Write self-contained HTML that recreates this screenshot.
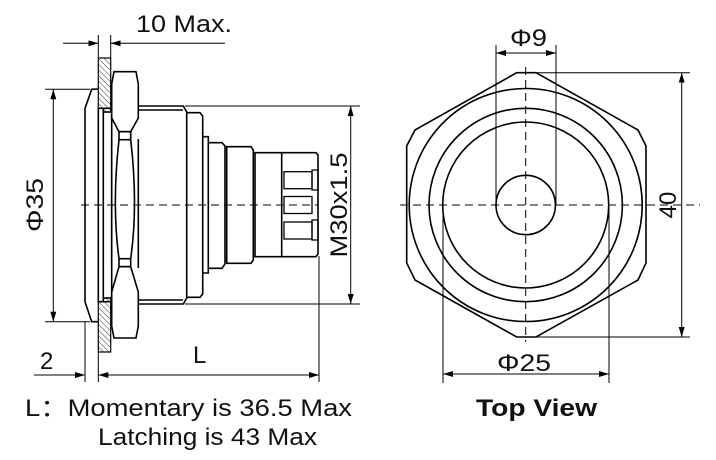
<!DOCTYPE html>
<html><head><meta charset="utf-8"><style>
html,body{margin:0;padding:0;background:#fff;width:716px;height:460px;overflow:hidden}
svg{display:block}
text{font-family:"Liberation Sans","Noto Sans CJK SC",sans-serif;fill:#111;font-size:24px}
</style></head><body>
<svg width="716" height="460" viewBox="0 0 716 460" xmlns="http://www.w3.org/2000/svg">
<defs>
<marker id="a" viewBox="0 0 10 6" refX="10" refY="3" markerWidth="10" markerHeight="6" orient="auto-start-reverse" markerUnits="userSpaceOnUse"><path d="M0,0 L10,3 L0,6 Z" fill="#000"/></marker>
<pattern id="h" width="4" height="4" patternUnits="userSpaceOnUse" patternTransform="rotate(-45)"><line x1="0" y1="0" x2="0" y2="4" stroke="#000" stroke-width="0.8"/></pattern>
</defs>
<g fill="none" stroke="#000" stroke-width="1.6">
<rect x="98.3" y="58" width="12.4" height="294" fill="url(#h)" stroke-width="1.2"/>
<path d="M98.3,89 L91.7,89.3 L85,108.3 L85,301.7 L91.7,321.7 L98.3,321.7"/>
<line x1="98.3" y1="108.3" x2="110.7" y2="108.3"/>
<line x1="98.3" y1="301.7" x2="110.7" y2="301.7"/>
<rect x="98.3" y="108.3" width="5" height="193.4" fill="#fff"/>
<rect x="103.3" y="112" width="8.4" height="186" fill="#fff"/>
<path d="M114,71.7 L136,71.7 L138.3,84 L138.3,118 L130.7,131.7 L119,131.7 L111.7,118 L111.7,84 Z" fill="#fff"/>
<path d="M114,338 L136,338 L138.3,326 L138.3,292 L130.7,266.7 L119,266.7 L111.7,292 L111.7,326 Z" fill="#fff"/>
<rect x="119" y="131.7" width="11.7" height="8"/>
<rect x="119" y="258.7" width="11.7" height="8"/>
<path d="M119,139.7 Q111.7,205 119,258.7 M130.7,139.7 Q138.3,205 130.7,258.7"/>
<line x1="111.7" y1="139" x2="111.7" y2="268"/>
<line x1="138.3" y1="139" x2="138.3" y2="268"/>
<path d="M138.3,106 L183.3,106 L186.7,112 L186.7,298 L183.3,304 L138.3,304"/>
<line x1="138.3" y1="110" x2="183" y2="110"/>
<line x1="138.3" y1="300" x2="183" y2="300"/>
<path d="M186.7,112.7 L200,112.7 L202.7,116 L202.7,294 L200,297.3 L186.7,297.3"/>
<path d="M202.7,136.7 L208.3,136.7 L208.3,273 L202.7,273"/>
<path d="M208.3,142.7 L222,142.7 L225,146 L225,264 L222,268.3 L208.3,268.3"/>
<path d="M226.7,146.7 L251,146.7 L253.3,150 L253.3,260 L251,263.3 L226.7,263.3 Z"/>
<path d="M255,152.7 L281.7,152.7 L281.7,256.7 L255,256.7 Z"/>
<path d="M281.7,152.7 L316,152.7 L318,155 L318,254 L316,256.7 L281.7,256.7"/>
<g stroke-width="1.3">
<rect x="284" y="171.7" width="28" height="17"/>
<rect x="284" y="196.5" width="28" height="17"/>
<rect x="284" y="222" width="28" height="17"/>
<rect x="312" y="170" width="6" height="20"/><rect x="312" y="220" width="6" height="20"/>
</g>
</g>
<g fill="none" stroke="#000" stroke-width="1">
<line x1="63" y1="43.3" x2="98.3" y2="43.3" marker-end="url(#a)"/>
<line x1="225" y1="43.3" x2="110.7" y2="43.3" marker-end="url(#a)"/>
<line x1="98.3" y1="35" x2="98.3" y2="58"/><line x1="110.7" y1="35" x2="110.7" y2="58"/>
<line x1="45" y1="89.3" x2="90" y2="89.3"/><line x1="45" y1="321.7" x2="90" y2="321.7"/>
<line x1="53.3" y1="89.3" x2="53.3" y2="321.7" marker-start="url(#a)" marker-end="url(#a)"/>
<line x1="185" y1="106" x2="360" y2="106"/><line x1="185" y1="304" x2="360" y2="304"/>
<line x1="350.7" y1="106" x2="350.7" y2="304" marker-start="url(#a)" marker-end="url(#a)"/>
<line x1="319" y1="256" x2="319" y2="382"/>
<line x1="85" y1="322" x2="85" y2="382"/><line x1="98.3" y1="352" x2="98.3" y2="382"/>
<line x1="34" y1="375" x2="85" y2="375" marker-end="url(#a)"/>
<line x1="98.3" y1="375" x2="319" y2="375" marker-start="url(#a)" marker-end="url(#a)"/>
<line x1="81" y1="205" x2="318" y2="205" stroke-dasharray="8,5"/>
<path d="M516.7,72.7 L536,72.7 L638,130 L646,146 L646,263 L638,280 L536,337 L516.7,337 L415,280 L406.7,263 L406.7,146 L415,130 Z" stroke-width="1.6"/>
<circle cx="525.7" cy="205" r="116.5" stroke-width="1.6"/>
<circle cx="525.7" cy="205" r="96.7" stroke-width="1.6"/>
<circle cx="525.7" cy="205" r="83" stroke-width="1.6"/>
<circle cx="525.7" cy="205" r="29.7" stroke-width="1.6"/>
<line x1="400" y1="205" x2="700" y2="205" stroke-dasharray="8,5"/>
<line x1="525.7" y1="67" x2="525.7" y2="342" stroke-dasharray="8,5"/>
<line x1="496" y1="45" x2="496" y2="205"/><line x1="556" y1="45" x2="556" y2="205"/>
<line x1="496" y1="53" x2="556" y2="53" marker-start="url(#a)" marker-end="url(#a)"/>
<line x1="443" y1="205" x2="443" y2="383"/><line x1="609" y1="205" x2="609" y2="383"/>
<line x1="443" y1="374" x2="609" y2="374" marker-start="url(#a)" marker-end="url(#a)"/>
<line x1="536" y1="72.7" x2="690" y2="72.7"/><line x1="536" y1="337" x2="690" y2="337"/>
<line x1="681.7" y1="72.7" x2="681.7" y2="337" marker-start="url(#a)" marker-end="url(#a)"/>
</g>
<text x="136" y="32" textLength="96" lengthAdjust="spacingAndGlyphs">10 Max.</text>
<text x="40" y="369">2</text>
<text x="193" y="363">L</text>
<text transform="translate(43,205) rotate(-90)" text-anchor="middle" textLength="54" lengthAdjust="spacingAndGlyphs">Φ35</text>
<text transform="translate(347,205) rotate(-90)" text-anchor="middle" textLength="105" lengthAdjust="spacingAndGlyphs">M30x1.5</text>
<text x="510" y="46" textLength="37" lengthAdjust="spacingAndGlyphs">Φ9</text>
<text x="497" y="371" textLength="54" lengthAdjust="spacingAndGlyphs">Φ25</text>
<text transform="translate(676,205) rotate(-90)" text-anchor="middle">40</text>
<text x="25" y="416" textLength="327" lengthAdjust="spacingAndGlyphs">L：Momentary is 36.5 Max</text>
<text x="98" y="445" textLength="219" lengthAdjust="spacingAndGlyphs">Latching is 43 Max</text>
<text x="476" y="416" font-weight="bold" textLength="121" lengthAdjust="spacingAndGlyphs">Top View</text>
</svg>
</body></html>
